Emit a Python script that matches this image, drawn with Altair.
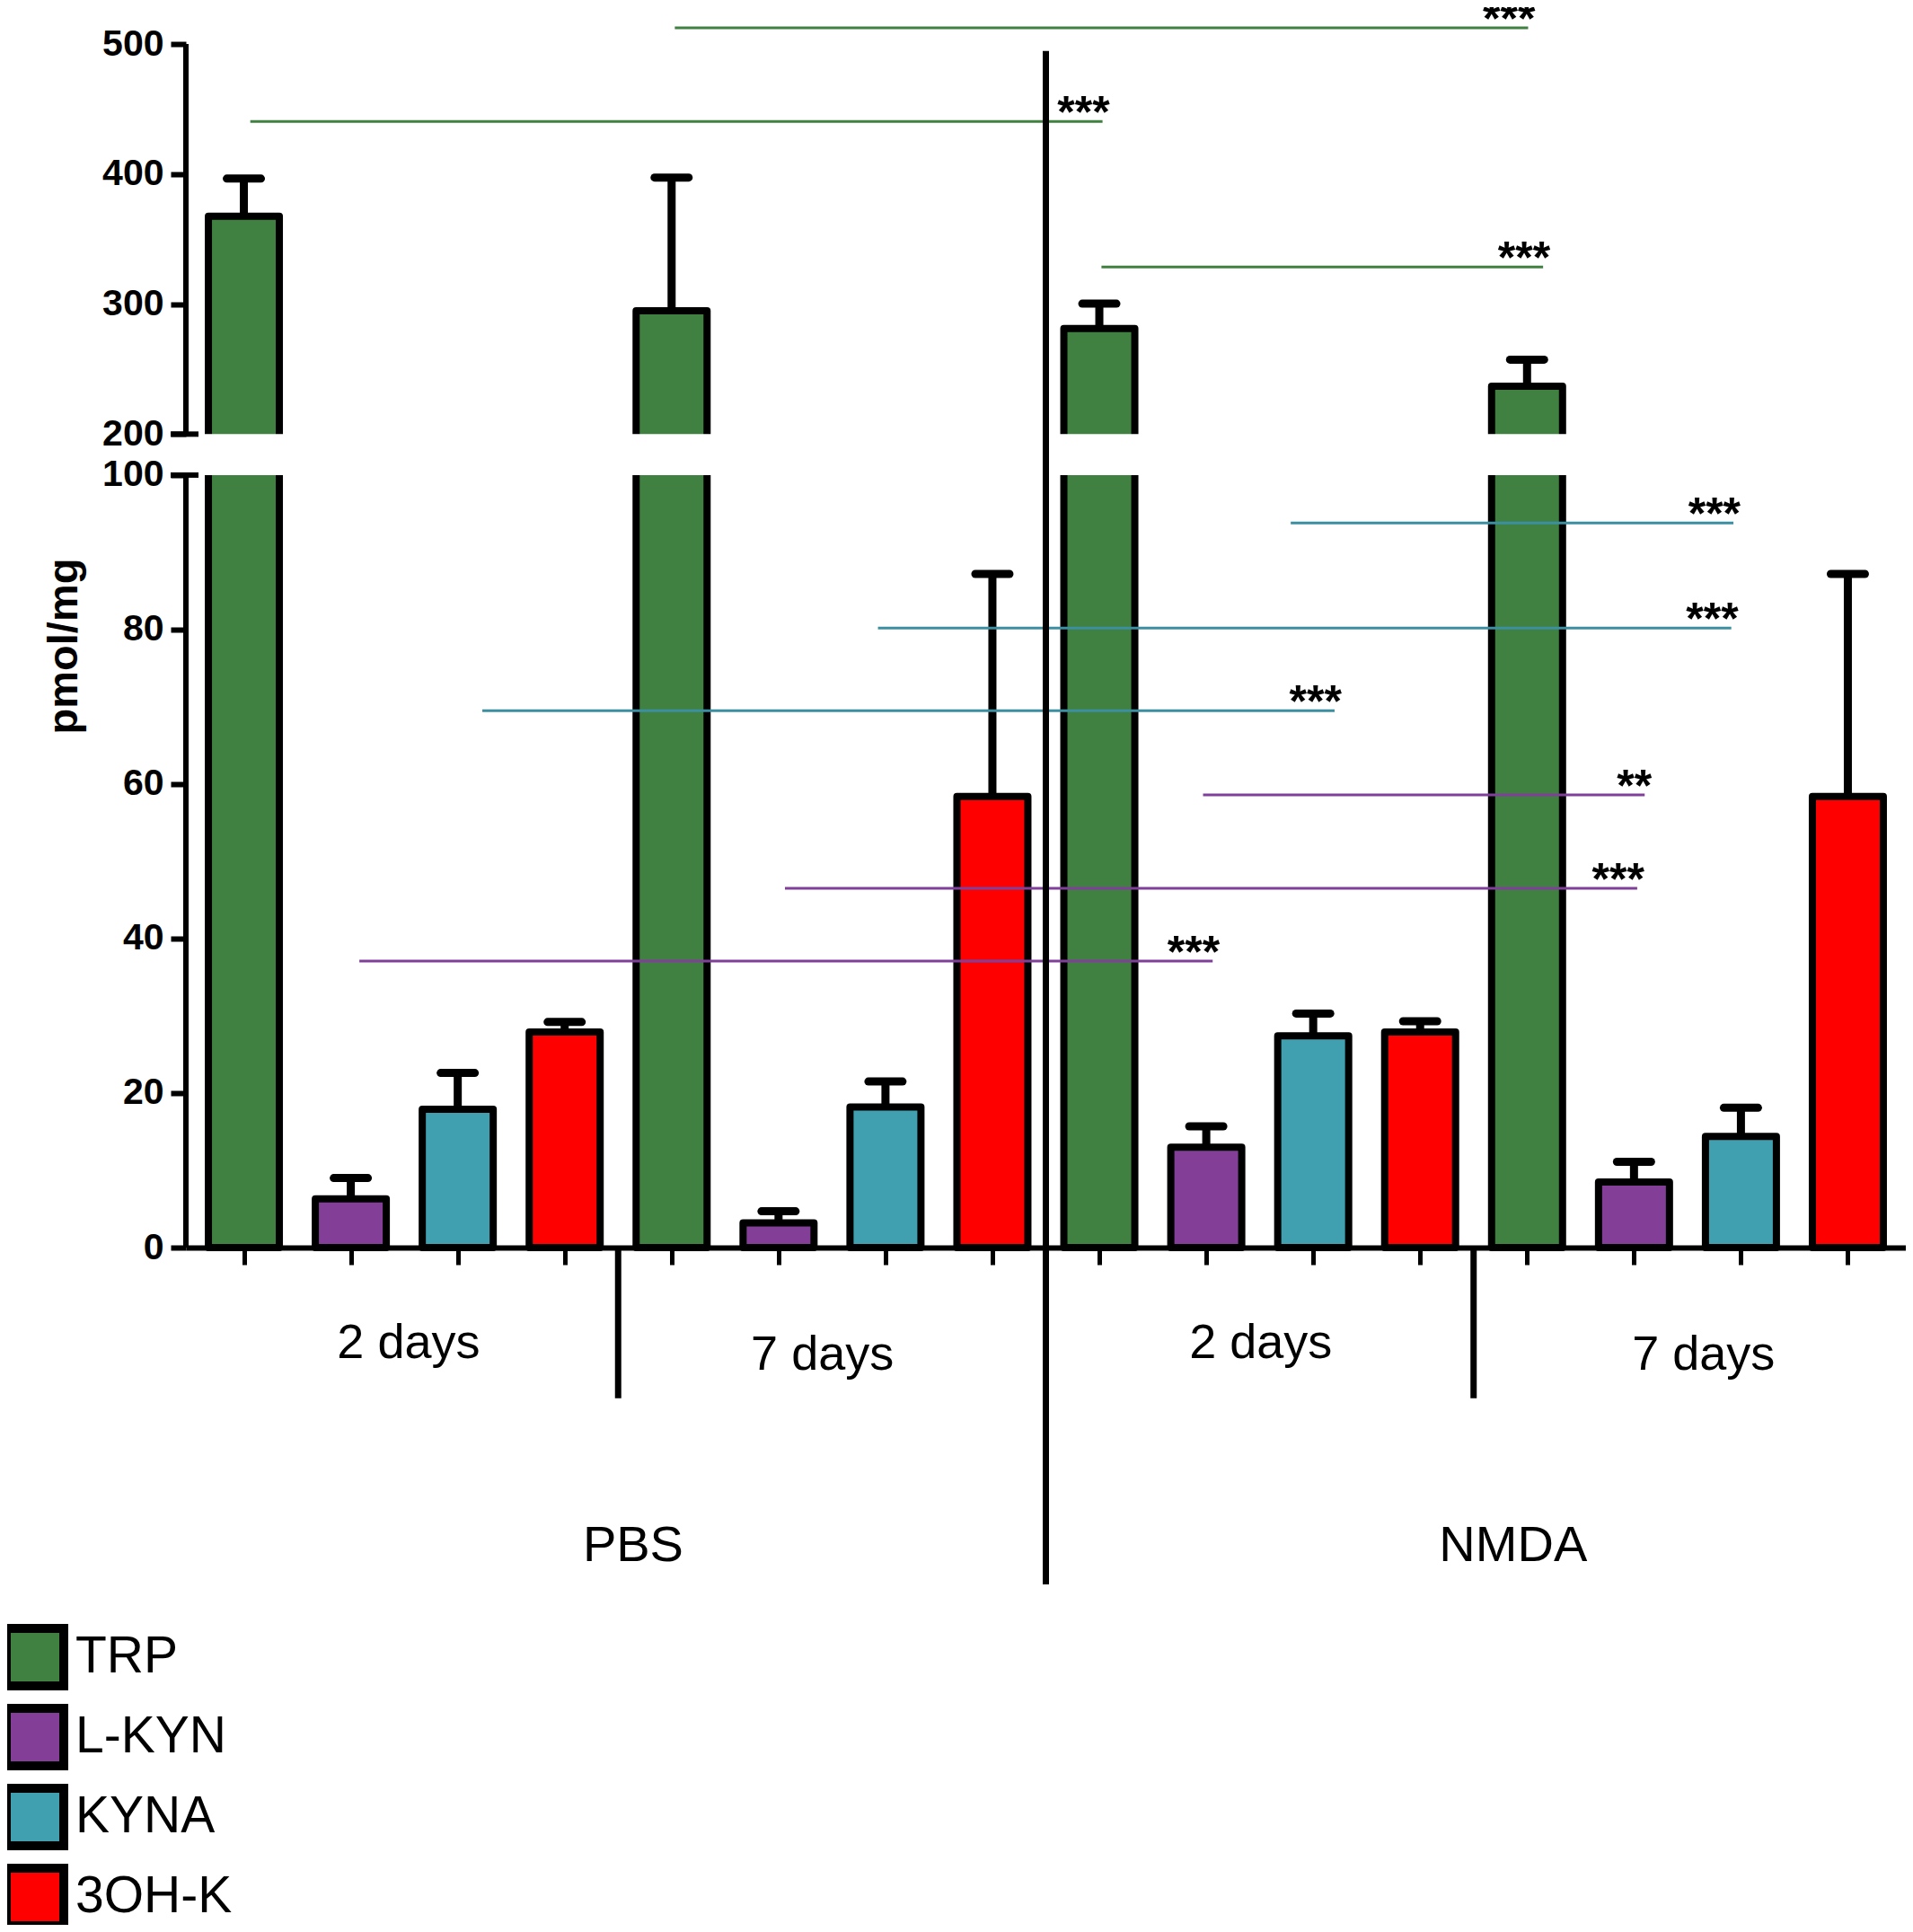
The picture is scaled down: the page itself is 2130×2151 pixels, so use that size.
import altair as alt
import pandas as pd

# ---------------- data ----------------
metabolites = ["TRP", "L-KYN", "KYNA", "3OH-K"]
bar_colors = ["#408040", "#833F98", "#40A0B0", "#FF0000"]
line_colors = {"TRP": "#408040", "L-KYN": "#80409A", "KYNA": "#3C8FA0"}

conditions = ["PBS", "NMDA"]
durations = ["2 days", "7 days", "2 days", "7 days"]

# group order: PBS 2 days, PBS 7 days, NMDA 2 days, NMDA 7 days
mean_trp = [367.5, 294.8, 281.3, 236.8]
mean_lkyn = [6.3, 3.2, 13.0, 8.5]
mean_kyna = [17.9, 18.2, 27.4, 14.4]
mean_ohk = [27.9, 58.4, 27.9, 58.4]

sem_trp = [29.0, 102.5, 19.0, 20.5]
sem_lkyn = [2.7, 1.5, 2.7, 2.6]
sem_kyna = [4.7, 3.3, 2.9, 3.7]
sem_ohk = [1.3, 28.8, 1.4, 28.8]

# significance brackets (bar positions in category units, level in pmol/mg)
sig_from = [0.06, 4.03, 8.02, 9.79, 5.93, 2.23, 8.97, 5.06, 1.08]
sig_to = [8.03, 12.01, 12.15, 13.93, 13.91, 10.2, 13.1, 13.03, 9.06]
sig_level = [440.4, 512.4, 328.5, 93.8, 80.2, 69.5, 58.6, 46.5, 37.1]
sig_metabolite = ["TRP", "TRP", "TRP", "KYNA", "KYNA", "KYNA", "L-KYN", "L-KYN", "L-KYN"]
sig_stars = ["***", "***", "***", "***", "***", "***", "**", "***", "***"]

y_tick_labels = [0, 20, 40, 60, 80, 100, 200, 300, 400, 500]
duration_label_at = [1.54, 5.41, 9.51, 13.65]
condition_label_at = [3.64, 11.87]

# ---------------- broken y axis ----------------
BREAK_LOW, BREAK_HIGH, GAP = 100, 200, 5.3
UPPER_FACTOR = 50.5 / 300


def brk(v):
    return v if v <= BREAK_LOW else BREAK_LOW + GAP + (v - BREAK_HIGH) * UPPER_FACTOR


YMAX = brk(500)
FONT = "Liberation Sans"

means = [mean_trp, mean_lkyn, mean_kyna, mean_ohk]
sems = [sem_trp, sem_lkyn, sem_kyna, sem_ohk]
rows = []
for g in range(4):
    for m, name in enumerate(metabolites):
        mu, se = means[m][g], sems[m][g]
        rows.append({
            "pos": g * 4 + m, "metabolite": name, "mean": mu,
            "top": brk(mu), "err": brk(mu + se), "broken": mu > BREAK_HIGH,
        })
bars = pd.DataFrame(rows)

sig = pd.DataFrame({
    "x1": sig_from, "x2": sig_to,
    "y": [brk(v) for v in sig_level],
    "col": [line_colors[s] for s in sig_metabolite],
    "stars": sig_stars,
})

xsc = alt.Scale(domain=[-0.5, 15.5], nice=False, zero=False)
ysc = alt.Scale(domain=[0, YMAX], nice=False, zero=False)

tick_vals = [brk(v) for v in y_tick_labels]
label_expr = (
    f"datum.value <= {BREAK_LOW + 0.5} ? format(datum.value, 'd') : "
    f"format({BREAK_HIGH} + (datum.value - {BREAK_LOW + GAP}) / {UPPER_FACTOR}, '.0f')"
)

ax_x = alt.Axis(values=list(range(16)), labels=False, title=None,
                tickSize=19, tickWidth=5, tickColor="black",
                domainWidth=6, domainColor="black", grid=False, zindex=1)
ax_y = alt.Axis(values=tick_vals, labelExpr=label_expr, domain=False, title="pmol/mg",
                grid=False, tickSize=17, tickWidth=6, tickColor="black",
                labelFont=FONT, labelFontSize=41, labelFontWeight="bold",
                labelColor="black", labelPadding=8,
                titleFont=FONT, titleFontSize=47, titleFontWeight="bold",
                titleColor="black", titleAngle=270, titleBaseline="bottom",
                titleAlign="center", titleX=-112, titleY=670, zindex=1)


def X(field):
    return alt.X(field, scale=xsc, axis=ax_x, title=None)


def Y(field):
    return alt.Y(field, scale=ysc, axis=ax_y, title="pmol/mg")


base = alt.Chart(bars)

stems = base.mark_rule(color="black", strokeWidth=9).encode(
    x=X("pos:Q"), y=Y("top:Q"), y2="err:Q",
)
caps = base.mark_rule(color="black", strokeWidth=9, strokeCap="round",
                      xOffset=-19, x2Offset=19).encode(
    x=X("pos:Q"), x2="pos:Q", y=Y("err:Q"),
)

bar_layer = base.mark_bar(size=79, stroke="black", strokeWidth=8,
                          strokeJoin="round", opacity=1).encode(
    x=X("pos:Q"),
    y=Y("top:Q"),
    y2=alt.datum(0),
    color=alt.Color("metabolite:N",
                    scale=alt.Scale(domain=metabolites, range=bar_colors),
                    legend=alt.Legend(orient="none", legendX=-205, legendY=1759,
                                      title=None, direction="vertical",
                                      symbolType="square", symbolSize=4096,
                                      symbolStrokeWidth=10, symbolStrokeColor="black",
                                      symbolOpacity=1, labelFont=FONT,
                                      labelFontSize=57, labelColor="black",
                                      labelOffset=8, rowPadding=-15, padding=0,
                                      labelLimit=0)),
)

gap_cover = base.transform_filter("datum.broken").mark_bar(
    size=97, color="white", opacity=1).encode(
    x=X("pos:Q"),
    y=alt.Y(datum=BREAK_LOW, scale=ysc, axis=ax_y, title="pmol/mg"),
    y2=alt.datum(BREAK_LOW + GAP),
)

axis_segments = pd.DataFrame({"y1": [0, BREAK_LOW + GAP], "y2": [BREAK_LOW, YMAX]})
y_domain = alt.Chart(axis_segments).mark_rule(color="black", strokeWidth=6).encode(
    x=alt.value(0), y=Y("y1:Q"), y2="y2:Q",
)
break_marks = alt.Chart(pd.DataFrame({"y": [BREAK_LOW, BREAK_LOW + GAP]})).mark_rule(
    color="black", strokeWidth=6).encode(
    x=alt.value(-17), x2=alt.value(14), y=Y("y:Q"),
)

sig_lines = alt.Chart(sig).mark_rule(strokeWidth=3).encode(
    x=X("x1:Q"), x2="x2:Q", y=Y("y:Q"),
    color=alt.Color("col:N", scale=None),
)
sig_text = alt.Chart(sig).mark_text(align="right", baseline="alphabetic", dx=8, dy=7,
                                    font=FONT, fontSize=50, fontWeight="bold",
                                    color="black").encode(
    x=X("x2:Q"), y=Y("y:Q"), text="stars:N",
)

separators = pd.DataFrame({
    "x": [3.5, 7.5, 11.5],
    "ya": [0, -43.6, 0],
    "yb": [-19.5, 154.9, -19.5],
})
sep_layer = alt.Chart(separators).mark_rule(color="black", strokeWidth=7).encode(
    x=X("x:Q"), y=Y("ya:Q"), y2="yb:Q",
)

dur = pd.DataFrame({"x": duration_label_at, "label": durations})
dur2 = alt.Chart(dur.iloc[[0, 2]]).mark_text(
    font=FONT, fontSize=54, color="black", baseline="alphabetic").encode(
    x=X("x:Q"), y=alt.value(1463), text="label:N")
dur7 = alt.Chart(dur.iloc[[1, 3]]).mark_text(
    font=FONT, fontSize=54, color="black", baseline="alphabetic").encode(
    x=X("x:Q"), y=alt.value(1476), text="label:N")

cond = pd.DataFrame({"x": condition_label_at, "label": conditions})
cond_layer = alt.Chart(cond).mark_text(
    font=FONT, fontSize=56, color="black", baseline="alphabetic").encode(
    x=X("x:Q"), y=alt.value(1689), text="label:N")

chart = alt.layer(
    stems, caps, bar_layer, gap_cover, y_domain, break_marks,
    sig_lines, sig_text, sep_layer, dur2, dur7, cond_layer,
).properties(
    width=1915, height=1340,
    autosize=alt.AutoSizeParams(type="none"),
    padding={"left": 199, "top": 41, "right": 0, "bottom": 754},
    background="white",
).configure_view(stroke=None)

chart.save("out.html", embed_options={"renderer": "svg", "actions": False})
